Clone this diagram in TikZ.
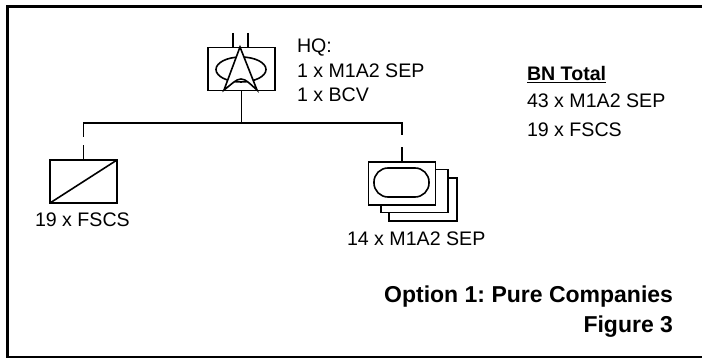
\documentclass[tikz,border=0pt]{standalone}
\usepackage{fontspec}
\setmainfont{Liberation Sans}
\usetikzlibrary{positioning,shapes.geometric,calc}

\begin{document}
\frenchspacing
\begin{tikzpicture}[x=1pt, y=-1pt, line width=1.6pt, every node/.style={font=\fontsize{19.6}{24.5}\selectfont, align=left, inner sep=0pt, outer sep=0pt}, unit/.style={draw, fill=white, minimum width=67pt, minimum height=43pt}, caption/.style={font=\fontsize{23}{29}\selectfont\bfseries, anchor=base east}, label/.style={anchor=base west}]
        \useasboundingbox (0,0) rectangle (702,358);
        \coordinate (framea) at (702,7);
        \coordinate (frameb) at (702,357.5);
        \coordinate (framec) at (7.5,357.5);
        \draw[line width=3pt] (framea) -| (framec) -- (frameb);

        % headquarters
        \node[unit] (hq) at (241.5,69) {};
        \node[draw, ellipse, minimum width=50pt, minimum height=25pt] (hqoval) at (241,69.5) {};
        \coordinate (tipa) at (240,47);
        \coordinate (tipb) at (224,90);
        \coordinate (tipc) at (257,90);
        \coordinate (tipd) at (241,79);
        \filldraw[fill=white] (tipa) -- (tipb) .. controls (232,84) and (236,79) .. (tipd) .. controls (246,79) and (250,84) .. (tipc) -- cycle;
        \coordinate (stuba) at (233,33);
        \coordinate (stubb) at (248,33);
        \draw (stuba) -- (stuba |- hq.north);
        \draw (stubb) -- (stubb |- hq.north);
        \node[anchor=north west] (hqtext) at (297,39) {HQ:\\1 x M1A2 SEP\\1 x BCV};

        % companies
        \node[unit] (fscs) at (83.5,181.5) {};
        \draw (fscs.south west) -- (fscs.north east);
        \node[label] (fscstext) at (35,227) {19 x FSCS};
        \node[unit, minimum width=68pt] (armorc) at (423,199.5) {};
        \node[unit] (armorb) at (414.5,191) {};
        \node[unit] (armora) at (402,183.5) {};
        \node[draw, rounded corners=14pt, minimum width=55pt, minimum height=29pt] (armoroval) at (401.5,182.5) {};
        \node[label] (armortext) at (347,246) {14 x M1A2 SEP};

        % tree
        \coordinate (treeleft) at (fscs.north |- 0,123);
        \coordinate (treeright) at (armora.north |- 0,123);
        \draw (hq.south) -- (hq.south |- treeleft);
        \draw (fscs.north) -- ++(0,-15);
        \draw (treeleft) ++(0,14) -- (treeleft) -- (treeright) -- ++(0,12);
        \draw (armora.north) -- ++(0,-15);

        % totals
        \node[label] (bntitle) at (527,81) {\bfseries\underline{BN Total}};
        \node[anchor=north west, font=\fontsize{19.6}{28.5}\selectfont] (bntext) at (527,94) {43 x M1A2 SEP\\19 x FSCS};
        \node[caption] (option) at (673,303) {Option 1: Pure Companies};
        \node[caption] (figure) at (673,332) {Figure 3};
    \end{tikzpicture}
\end{document}
